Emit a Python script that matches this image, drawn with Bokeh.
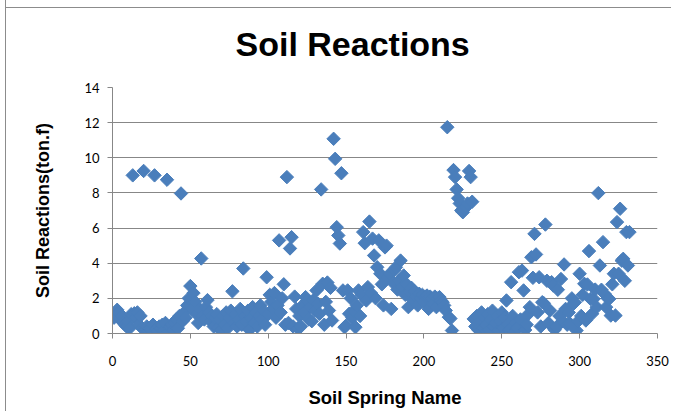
import math
from bokeh.plotting import figure
from bokeh.models import Range1d, FixedTicker
from bokeh.embed import file_html
from bokeh.resources import INLINE

reaction = [
    0.9, 1.1, 1.35, 1.2, 0.8, 1.0, 0.6, 0.5, 0.4, 0.7,
    0.3, 1.1, 9.0, 1.15, 0.9, 1.2, 0.5, 1.0, 0.3, 9.25,
    0.2, 0.4, 0.15, 0.3, 0.2, 0.5, 9.0, 0.25, 0.1, 0.4,
    0.3, 0.5, 0.2, 0.6, 8.75, 0.1, 0.35, 0.5, 0.2, 0.6,
    0.8, 0.3, 1.0, 7.97, 0.7, 1.2, 0.9, 1.6, 2.0, 2.7,
    1.4, 2.3, 1.8, 1.1, 0.6, 1.4, 4.27, 1.0, 0.8, 1.5,
    1.9, 1.2, 0.7, 1.0, 0.4, 0.9, 1.1, 0.3, 0.8, 0.2,
    1.0, 0.5, 1.2, 0.3, 0.9, 1.3, 2.4, 0.6, 1.1, 0.4,
    0.8, 1.4, 0.5, 3.7, 1.0, 0.7, 1.3, 0.2, 0.9, 1.5,
    0.6, 1.2, 0.4, 1.0, 1.6, 0.8, 1.3, 0.5, 3.2, 1.1,
    2.2, 1.8, 1.4, 2.3, 0.9, 1.6, 5.3, 1.2, 2.0, 2.8,
    0.5, 8.9, 0.6, 4.84, 5.48, 0.4, 2.1, 1.4, 0.3, 1.0,
    0.4, 1.6, 1.2, 2.07, 1.88, 0.8, 1.5, 0.7, 1.9, 1.3,
    2.45, 1.7, 1.12, 8.2, 2.83, 0.5, 1.8, 2.9, 1.31, 2.6,
    0.74, 11.08, 9.94, 6.05, 5.58, 5.12, 9.12, 2.45, 0.36, 0.45,
    2.45, 1.12, 2.0, 0.9, 1.31, 0.36, 1.6, 2.45, 1.0, 2.2,
    5.77, 5.14, 1.88, 2.64, 6.37, 2.3, 5.4, 4.44, 2.0, 3.77,
    5.3, 3.4, 2.8, 1.6, 4.9, 5.0, 3.2, 3.4, 1.4, 2.9,
    3.6, 3.77, 2.5, 3.0, 4.15, 2.64, 3.3, 2.2, 2.8, 1.5,
    2.35, 2.6, 1.9, 2.4, 2.1, 1.6, 2.26, 2.0, 2.2, 1.8,
    2.1, 2.16, 1.4, 2.1, 2.0, 1.7, 2.1, 1.5, 2.0, 2.07,
    1.88, 1.78, 1.6, 1.31, 11.74, 0.93, 0.85, 0.17, 9.3, 8.9,
    8.2, 7.7, 7.4, 7.0, 6.9, 7.1, 7.2, 7.4, 9.25, 8.9,
    7.5, 0.83, 0.4, 1.0, 0.2, 0.7, 1.2, 0.3, 0.9, 0.5,
    1.1, 0.2, 0.8, 1.3, 0.4, 0.6, 1.0, 0.15, 0.7, 1.2,
    0.3, 0.9, 1.88, 0.5, 0.2, 2.92, 1.0, 0.1, 0.6, 0.3,
    3.49, 0.8, 3.58, 2.45, 0.2, 0.5, 1.1, 1.5, 4.34, 3.17,
    5.67, 4.5, 1.2, 3.2, 0.4, 1.78, 1.72, 6.2, 3.0, 0.6,
    1.31, 2.92, 2.73, 0.21, 0.36, 2.49, 1.0, 3.1, 0.7, 3.93,
    1.4, 0.5, 1.2, 0.55, 2.0, 1.69, 1.78, 0.17, 0.7, 3.4,
    1.0, 2.2, 2.83, 0.74, 2.79, 4.69, 1.97, 1.12, 1.97, 2.5,
    1.5, 7.99, 3.87, 2.49, 5.2, 2.26, 1.5, 2.0, 1.97, 1.02,
    2.8, 3.4, 1.02, 6.34, 3.4, 7.1, 4.15, 4.25, 3.0, 5.77,
    3.87, 5.77,
]
spring = list(range(1, len(reaction) + 1))

x_ticks = [0, 50, 100, 150, 200, 250, 300, 350]
y_ticks = [0, 2, 4, 6, 8, 10, 12, 14]

GRID = "#878787"
BLUE = "#4A7EBB"

p = figure(width=666, height=411, output_backend="svg", toolbar_location=None,
           x_range=Range1d(0, 350), y_range=Range1d(0, 14),
           min_border_left=106, min_border_right=15,
           min_border_top=87, min_border_bottom=78,
           title="Soil Reactions")
p.margin = (0, 0, 0, 5)
p.styles = {
    "border-left": "1px solid #8c8c8c",
    "background": "linear-gradient(to bottom, transparent 7px, #8c8c8c 7px, "
                  "#8c8c8c 8px, transparent 8px)",
}
p.outline_line_color = None
p.background_fill_color = "white"
p.border_fill_color = None

p.title.align = "left"
p.title.offset = 123
p.title.vertical_align = "top"
p.title.text_font = "Liberation Sans"
p.title.text_font_style = "bold"
p.title.text_font_size = "34px"
p.title.text_color = "black"
p.title.standoff = 45

p.scatter(spring, reaction, marker="square", size=9.5, angle=math.pi / 4,
          fill_color=BLUE, line_color=BLUE, line_width=1)

p.xaxis.ticker = FixedTicker(ticks=x_ticks)
p.yaxis.ticker = FixedTicker(ticks=y_ticks)
p.xgrid.grid_line_color = None
p.ygrid.grid_line_color = GRID
p.ygrid.grid_line_width = 1

for ax in (p.xaxis[0], p.yaxis[0]):
    ax.axis_line_color = GRID
    ax.major_tick_line_color = GRID
    ax.major_tick_in = 0
    ax.major_tick_out = 5
    ax.minor_tick_line_color = None
    ax.major_label_text_font = "Lato"
    ax.major_label_text_font_size = "13px"
    ax.major_label_text_color = "black"
    ax.axis_label_text_font = "Liberation Sans"
    ax.axis_label_text_font_style = "bold"
    ax.axis_label_text_color = "black"

p.xaxis.axis_label = "Soil Spring Name"
p.xaxis.axis_label_text_font_size = "18.5px"
p.xaxis.major_label_standoff = 17
p.xaxis.axis_label_standoff = 18
p.yaxis.axis_label = "Soil Reactions(ton.f)"
p.yaxis.axis_label_text_font_size = "18px"
p.yaxis.major_label_standoff = 8
p.yaxis.axis_label_standoff = 28

open("out.html", "w").write(file_html(p, INLINE))
